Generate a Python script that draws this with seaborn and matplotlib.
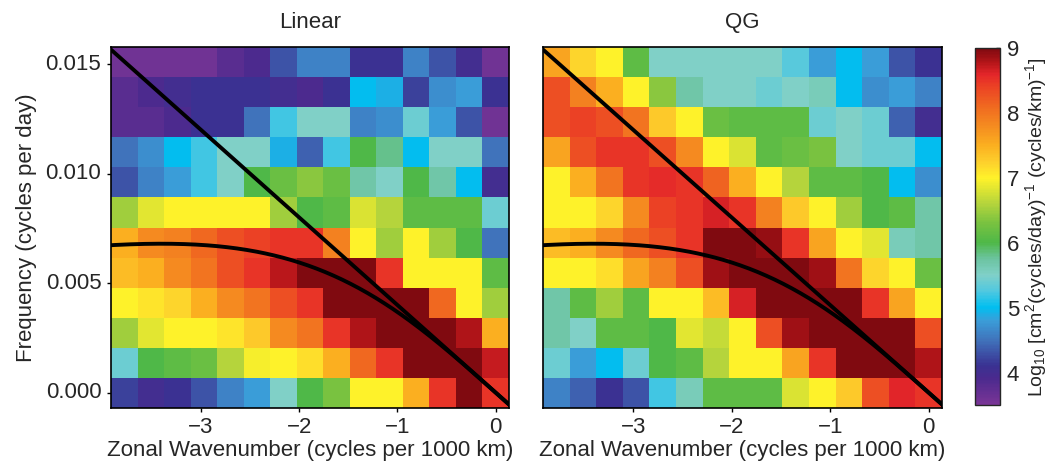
import numpy as np
import matplotlib
matplotlib.use("Agg")
import matplotlib.pyplot as plt
import seaborn as sns
from matplotlib.colors import LinearSegmentedColormap, Normalize
from matplotlib.cm import ScalarMappable

# zonal wavenumber bin centres (cycles per 1000 km), left -> right
wavenumbers = [-3.78, -3.51, -3.24, -2.97, -2.70, -2.43, -2.16, -1.89,
               -1.62, -1.35, -1.08, -0.81, -0.54, -0.27, 0.00]
# frequency bin centres (cycles per day), top -> bottom
frequencies = [0.0151, 0.0138, 0.0124, 0.0110, 0.0096, 0.0083,
               0.0069, 0.0055, 0.0041, 0.0028, 0.0014, 0.0000]

# log10 spectral power, rows top (high freq) -> bottom
linear_power = [
    [3.6, 3.6, 3.6, 3.6, 3.8, 3.9, 4.3, 4.6, 4.6, 4.1, 4.1, 4.6, 4.3, 4.0, 3.6],
    [3.8, 3.9, 4.0, 4.1, 4.1, 4.1, 4.0, 3.9, 4.1, 5.0, 4.9, 4.2, 4.7, 4.8, 4.1],
    [3.8, 3.8, 3.9, 4.1, 4.1, 4.5, 5.2, 5.5, 5.5, 4.6, 4.7, 5.4, 4.8, 4.3, 3.6],
    [4.5, 4.7, 5.0, 5.2, 5.5, 5.5, 4.9, 4.4, 5.2, 6.0, 5.8, 5.0, 5.5, 5.5, 4.5],
    [4.3, 4.6, 4.8, 5.2, 5.5, 6.0, 6.2, 6.4, 6.2, 5.7, 5.5, 6.0, 5.7, 5.0, 4.0],
    [6.5, 6.85, 7.0, 7.0, 7.0, 7.0, 6.5, 6.0, 6.1, 6.8, 6.6, 6.1, 6.1, 6.1, 5.4],
    [7.5, 7.8, 7.9, 8.1, 8.3, 8.4, 8.5, 8.5, 7.9, 7.0, 6.5, 7.0, 6.5, 6.0, 4.5],
    [7.4, 7.5, 7.8, 8.0, 8.3, 8.5, 8.75, 9.0, 9.0, 9.0, 8.5, 7.0, 7.0, 7.0, 6.1],
    [7.0, 7.1, 7.2, 7.5, 7.8, 8.0, 8.3, 8.5, 9.0, 9.0, 9.0, 9.0, 8.1, 7.0, 6.5],
    [6.5, 6.85, 7.0, 7.0, 7.1, 7.3, 7.8, 8.0, 8.5, 8.8, 9.0, 9.0, 9.0, 8.8, 7.5],
    [5.4, 6.0, 6.1, 6.2, 6.6, 6.95, 7.0, 7.15, 7.5, 8.1, 8.5, 9.0, 9.0, 9.0, 8.7],
    [4.2, 4.0, 4.1, 4.3, 4.6, 4.8, 5.5, 6.0, 6.3, 7.0, 7.0, 7.5, 8.5, 9.0, 8.5],
]
qg_power = [
    [7.6, 7.2, 7.0, 6.1, 5.5, 5.5, 5.5, 5.5, 5.5, 5.3, 4.8, 5.0, 4.8, 4.3, 4.1],
    [8.3, 7.9, 7.5, 7.0, 6.4, 5.7, 5.5, 5.5, 5.4, 5.5, 5.6, 5.0, 4.7, 4.8, 4.6],
    [8.3, 8.4, 8.3, 8.0, 7.3, 7.0, 6.2, 6.1, 6.1, 6.1, 5.4, 5.5, 5.4, 4.4, 4.0],
    [7.6, 8.3, 8.5, 8.5, 8.3, 7.8, 7.0, 6.8, 6.1, 6.2, 6.3, 5.5, 5.4, 5.4, 5.0],
    [7.0, 7.5, 8.0, 8.5, 8.55, 8.5, 8.15, 7.5, 7.0, 6.6, 6.1, 6.1, 6.0, 5.0, 4.7],
    [7.0, 7.0, 7.2, 7.8, 8.4, 8.5, 8.65, 8.5, 7.9, 7.3, 7.0, 6.5, 6.0, 6.1, 5.7],
    [7.4, 7.5, 7.8, 8.1, 8.3, 8.5, 9.0, 9.0, 8.9, 8.5, 7.6, 7.0, 6.85, 5.6, 5.7],
    [7.0, 7.0, 7.15, 7.6, 7.9, 8.3, 8.85, 9.0, 9.0, 9.0, 8.85, 8.0, 7.2, 7.0, 6.2],
    [5.7, 6.1, 6.5, 6.1, 7.0, 7.0, 7.4, 8.65, 9.0, 9.0, 9.0, 9.0, 8.5, 7.6, 7.0],
    [5.7, 5.5, 6.1, 6.1, 6.0, 6.85, 6.7, 7.0, 8.3, 8.85, 9.0, 9.0, 9.0, 9.0, 8.3],
    [5.4, 4.8, 5.0, 5.4, 6.0, 6.1, 6.6, 7.0, 7.0, 7.6, 8.5, 9.0, 9.0, 9.0, 8.8],
    [4.6, 4.4, 4.1, 4.3, 5.2, 5.6, 6.1, 6.1, 6.1, 6.8, 7.0, 7.3, 8.3, 8.6, 8.5],
]

panel_titles = ["Linear", "QG"]
x_ticks = [-3, -2, -1, 0]
y_ticks = [0.000, 0.005, 0.010, 0.015]
cbar_ticks = [4, 5, 6, 7, 8, 9]
vmin, vmax = 3.5, 9.0

# Rossby wave dispersion parameters
rossby_amp = 0.0463   # cycles/day * cycles/1000km
rossby_kd = 3.4       # deformation wavenumber (cycles/1000km)

sns.set_style("white")
plt.rcParams["font.family"] = ["Liberation Sans", "DejaVu Sans"]
plt.rcParams["mathtext.fontset"] = "custom"
plt.rcParams["mathtext.rm"] = "Liberation Sans"
plt.rcParams["mathtext.it"] = "Liberation Sans"
plt.rcParams["axes.unicode_minus"] = True
TXT = "#262626"
FS = 16

# colour scale similar to the figure's rainbow
cmap_stops = [
    (3.5, "#7a3596"), (3.9, "#4b2a8e"), (4.1, "#3a3292"), (4.5, "#4074bc"),
    (4.8, "#3a9ed9"), (5.0, "#00bff0"), (5.25, "#50c8e0"), (5.5, "#80d0c8"),
    (5.75, "#6cc4a0"), (6.0, "#4fb848"), (6.3, "#78c240"), (6.6, "#b4d43c"),
    (7.0, "#fff22a"), (7.25, "#fdcf2c"), (7.5, "#fbb020"), (7.8, "#f58c20"),
    (8.1, "#f06a20"), (8.4, "#ec4424"), (8.6, "#e4262a"), (8.8, "#b01418"),
    (9.0, "#800a10"),
]
rainbow = LinearSegmentedColormap.from_list(
    "spec", [((v - vmin) / (vmax - vmin), c) for v, c in cmap_stops])

fig = plt.figure(figsize=(10.6, 4.72), dpi=100)
ax_l = fig.add_axes([0.1047, 0.1362, 0.3755, 0.7636])
ax_r = fig.add_axes([0.5123, 0.1362, 0.3764, 0.7636])
cax = fig.add_axes([0.9198, 0.142, 0.0236, 0.756])

K = np.array(wavenumbers)
F = np.array(frequencies)
dk = (K[-1] - K[0]) / (len(K) - 1)
df = (F[0] - F[-1]) / (len(F) - 1)


def to_px(k):
    return (np.asarray(k) - K[0]) / dk + 0.5


def to_py(f):
    return (F[0] - np.asarray(f)) / df + 0.5


for ax, data, title in zip([ax_l, ax_r], [linear_power, qg_power], panel_titles):
    sns.heatmap(np.array(data), ax=ax, cmap=rainbow, vmin=vmin, vmax=vmax,
                cbar=False, square=False, linewidths=0)
    ncol, nrow = len(wavenumbers), len(frequencies)
    ax.set_xlim(0, ncol)
    ax.set_ylim(nrow, 0)

    # dispersion curves
    k_line = np.linspace(K[0] - dk, K[-1] + dk, 300)
    f_rossby = -rossby_amp * k_line / (k_line ** 2 + rossby_kd ** 2)
    f_long = -rossby_amp / rossby_kd ** 2 * k_line
    ax.plot(to_px(k_line), to_py(f_long), color="black", lw=2.8,
            solid_capstyle="butt")
    ax.plot(to_px(k_line), to_py(f_rossby), color="black", lw=2.8)

    for s in ax.spines.values():
        s.set_visible(True)
        s.set_color("black")
        s.set_linewidth(1.2)

    ax.set_xticks(to_px(x_ticks))
    ax.set_xticklabels([f"{t:d}".replace("-", "\u2212") for t in x_ticks],
                       rotation=0, fontsize=FS, color=TXT)
    ax.set_xlabel("Zonal Wavenumber (cycles per 1000 km)", fontsize=FS,
                  color=TXT, labelpad=1)
    ax.set_title(title, fontsize=FS, color=TXT, pad=14)
    ax.tick_params(axis="both", direction="out", length=3, width=1,
                   color="black", pad=4, bottom=True, left=True)

ax_l.set_yticks(to_py(y_ticks))
ax_l.set_yticklabels([f"{t:.3f}" for t in y_ticks], rotation=0, fontsize=FS,
                     color=TXT)
ax_l.set_ylabel("Frequency (cycles per day)", fontsize=FS, color=TXT,
                labelpad=6)
ax_r.set_yticks(to_py(y_ticks))
ax_r.set_yticklabels([])
ax_r.set_ylabel("")
ax_r.tick_params(axis="y", length=0)

sm = ScalarMappable(norm=Normalize(vmin, vmax), cmap=rainbow)
cb = fig.colorbar(sm, cax=cax)
cb.set_ticks(cbar_ticks)
cb.ax.tick_params(labelsize=FS, colors=TXT, length=3, direction="in",
                  width=1, pad=5)
cb.ax.tick_params(color="black")
cb.outline.set_linewidth(1.0)
cb.set_label(r"Log$_{10}$ [cm$^2$(cycles/day)$^{-1}$ (cycles/km)$^{-1}$]",
             fontsize=14, color=TXT, labelpad=3)

fig.savefig("out.png", dpi=100)
